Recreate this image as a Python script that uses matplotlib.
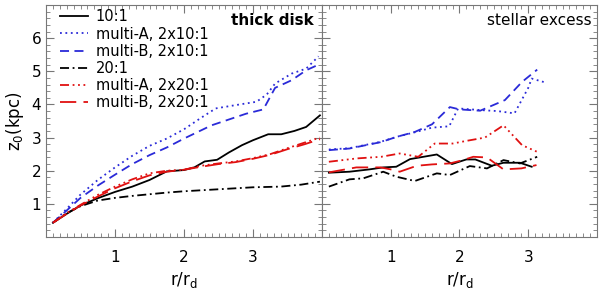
import matplotlib
matplotlib.use("Agg")
import matplotlib.pyplot as plt
from matplotlib.ticker import MultipleLocator, NullFormatter

# left panel: thick disk
x_a1 = [0.1, 0.3, 0.5, 0.75, 1.0, 1.25, 1.5, 1.75, 2.0, 2.15, 2.3, 2.48, 2.65, 2.84, 3.0, 3.22, 3.41, 3.6, 3.77, 3.97]
y_a1 = [0.43, 0.7, 0.95, 1.17, 1.36, 1.52, 1.72, 1.98, 2.02, 2.1, 2.28, 2.33, 2.55, 2.77, 2.92, 3.1, 3.1, 3.2, 3.32, 3.67]
x_a2 = [0.1, 0.3, 0.5, 0.75, 1.0, 1.25, 1.5, 1.75, 2.0, 2.25, 2.46, 2.75, 3.05, 3.2, 3.32, 3.56, 3.77, 3.95]
y_a2 = [0.43, 0.85, 1.28, 1.72, 2.1, 2.45, 2.75, 2.97, 3.25, 3.6, 3.88, 3.98, 4.08, 4.3, 4.63, 4.93, 5.08, 5.45]
x_a3 = [0.1, 0.3, 0.5, 0.75, 1.0, 1.25, 1.5, 1.75, 2.0, 2.4, 2.9, 3.15, 3.32, 3.56, 3.77, 3.95]
y_a3 = [0.43, 0.8, 1.18, 1.55, 1.88, 2.2, 2.47, 2.7, 2.97, 3.37, 3.72, 3.85, 4.5, 4.73, 5.03, 5.2]
x_a4 = [0.1, 0.3, 0.5, 0.75, 1.0, 1.25, 1.5, 1.75, 2.0, 2.5, 3.0, 3.4, 3.7, 3.97]
y_a4 = [0.43, 0.72, 0.93, 1.1, 1.18, 1.24, 1.29, 1.34, 1.38, 1.44, 1.5, 1.52, 1.58, 1.67]
x_a5 = [0.1, 0.3, 0.5, 0.75, 1.0, 1.25, 1.5, 1.75, 2.0, 2.25, 2.5, 2.75, 3.0, 3.25, 3.5, 3.75, 3.97]
y_a5 = [0.43, 0.72, 0.97, 1.27, 1.52, 1.74, 1.92, 2.0, 2.03, 2.15, 2.22, 2.28, 2.38, 2.5, 2.68, 2.85, 3.0]
x_a6 = x_a5
y_a6 = [0.43, 0.7, 0.95, 1.22, 1.47, 1.68, 1.86, 1.97, 2.03, 2.12, 2.2, 2.26, 2.36, 2.48, 2.65, 2.8, 2.95]

# right panel: stellar excess
x_b1 = [0.1, 0.4, 0.69, 0.89, 1.08, 1.28, 1.67, 1.89, 2.1, 2.23, 2.47, 2.64, 2.88, 3.05]
y_b1 = [1.94, 1.97, 2.04, 2.1, 2.12, 2.35, 2.49, 2.2, 2.34, 2.34, 2.15, 2.24, 2.24, 2.12]
x_b2 = [0.1, 0.4, 0.85, 1.1, 1.35, 1.6, 1.85, 1.98, 2.3, 2.55, 2.8, 3.0, 3.05, 3.27]
y_b2 = [2.64, 2.68, 2.87, 3.03, 3.16, 3.3, 3.34, 3.88, 3.83, 3.8, 3.73, 4.5, 4.78, 4.65]
x_b3 = [0.1, 0.4, 0.85, 1.1, 1.35, 1.6, 1.86, 2.0, 2.3, 2.66, 2.91, 3.13]
y_b3 = [2.62, 2.67, 2.86, 3.03, 3.17, 3.4, 3.92, 3.85, 3.81, 4.13, 4.68, 5.05]
x_b4 = [0.1, 0.4, 0.6, 0.89, 1.08, 1.35, 1.67, 1.86, 2.15, 2.4, 2.64, 2.88, 3.13]
y_b4 = [1.52, 1.74, 1.77, 1.97, 1.82, 1.69, 1.92, 1.87, 2.14, 2.07, 2.32, 2.22, 2.42]
x_b5 = [0.1, 0.5, 0.86, 1.13, 1.4, 1.64, 1.9, 2.1, 2.37, 2.64, 2.91, 3.13]
y_b5 = [2.27, 2.37, 2.42, 2.52, 2.42, 2.82, 2.82, 2.9, 3.0, 3.37, 2.77, 2.57]
x_b6 = [0.1, 0.5, 0.85, 1.05, 1.13, 1.38, 1.6, 1.86, 2.05, 2.2, 2.4, 2.64, 2.9, 3.12]
y_b6 = [1.95, 2.1, 2.1, 2.02, 1.97, 2.15, 2.19, 2.22, 2.32, 2.42, 2.4, 2.04, 2.07, 2.17]

labels = ['10:1', 'multi-A, 2x10:1', 'multi-B, 2x10:1', '20:1', 'multi-A, 2x20:1', 'multi-B, 2x20:1']

blue = '#2a2ad8'
red = '#e01010'
styles = [
    dict(color='black', ls='-'),
    dict(color=blue, ls=(0, (1, 2))),
    dict(color=blue, ls=(0, (5, 3))),
    dict(color='black', ls=(0, (5, 2, 1, 2))),
    dict(color=red, ls=(0, (5, 2, 1, 2, 1, 2, 1, 2))),
    dict(color=red, ls=(0, (9, 4))),
]

fig = plt.figure(figsize=(6, 2.9), dpi=100)
ax1 = fig.add_axes([46 / 600, 53 / 290, 276 / 600, 232 / 290])
ax2 = fig.add_axes([322 / 600, 53 / 290, 275 / 600, 232 / 290])

left = [(x_a1, y_a1), (x_a2, y_a2), (x_a3, y_a3), (x_a4, y_a4), (x_a5, y_a5), (x_a6, y_a6)]
right = [(x_b1, y_b1), (x_b2, y_b2), (x_b3, y_b3), (x_b4, y_b4), (x_b5, y_b5), (x_b6, y_b6)]

for (x, y), st, lab in zip(left, styles, labels):
    ax1.plot(x, y, lw=1.3, label=lab, **st)
for (x, y), st in zip(right, styles):
    ax2.plot(x, y, lw=1.3, **st)

for ax in (ax1, ax2):
    ax.set_xlim(0, 4)
    ax.set_ylim(0, 7)
    ax.xaxis.set_minor_locator(MultipleLocator(0.1))
    ax.yaxis.set_minor_locator(MultipleLocator(0.2))
    ax.set_xticks([1, 2, 3])
    ax.set_yticks([1, 2, 3, 4, 5, 6])
    ax.tick_params(which='both', direction='in', top=True, right=True, color='#777777', labelsize=11)
    ax.tick_params(which='major', length=6, width=0.8)
    ax.tick_params(which='minor', length=3, width=0.6)
    ax.tick_params(axis='x', which='major', pad=9)
    for s in ax.spines.values():
        s.set_color('#777777')
        s.set_linewidth(0.8)
    ax.set_xlabel('r/r$_\\mathregular{d}$', fontsize=12, labelpad=4)

ax2.yaxis.set_major_formatter(NullFormatter())
ax1.set_ylabel('z$_\\mathregular{0}$(kpc)', fontsize=12, labelpad=4)

ax1.legend(loc='upper left', bbox_to_anchor=(0.035, 1.0), frameon=False, fontsize=10.5,
           handlelength=1.95, handletextpad=0.5, labelspacing=0.15, borderaxespad=0.1,
           borderpad=0.2)
ax1.text(0.97, 0.965, 'thick disk', transform=ax1.transAxes, ha='right', va='top',
         fontsize=11, fontweight='bold')
ax2.text(0.98, 0.965, 'stellar excess', transform=ax2.transAxes, ha='right', va='top',
         fontsize=11)

plt.savefig('out.png', dpi=100)
